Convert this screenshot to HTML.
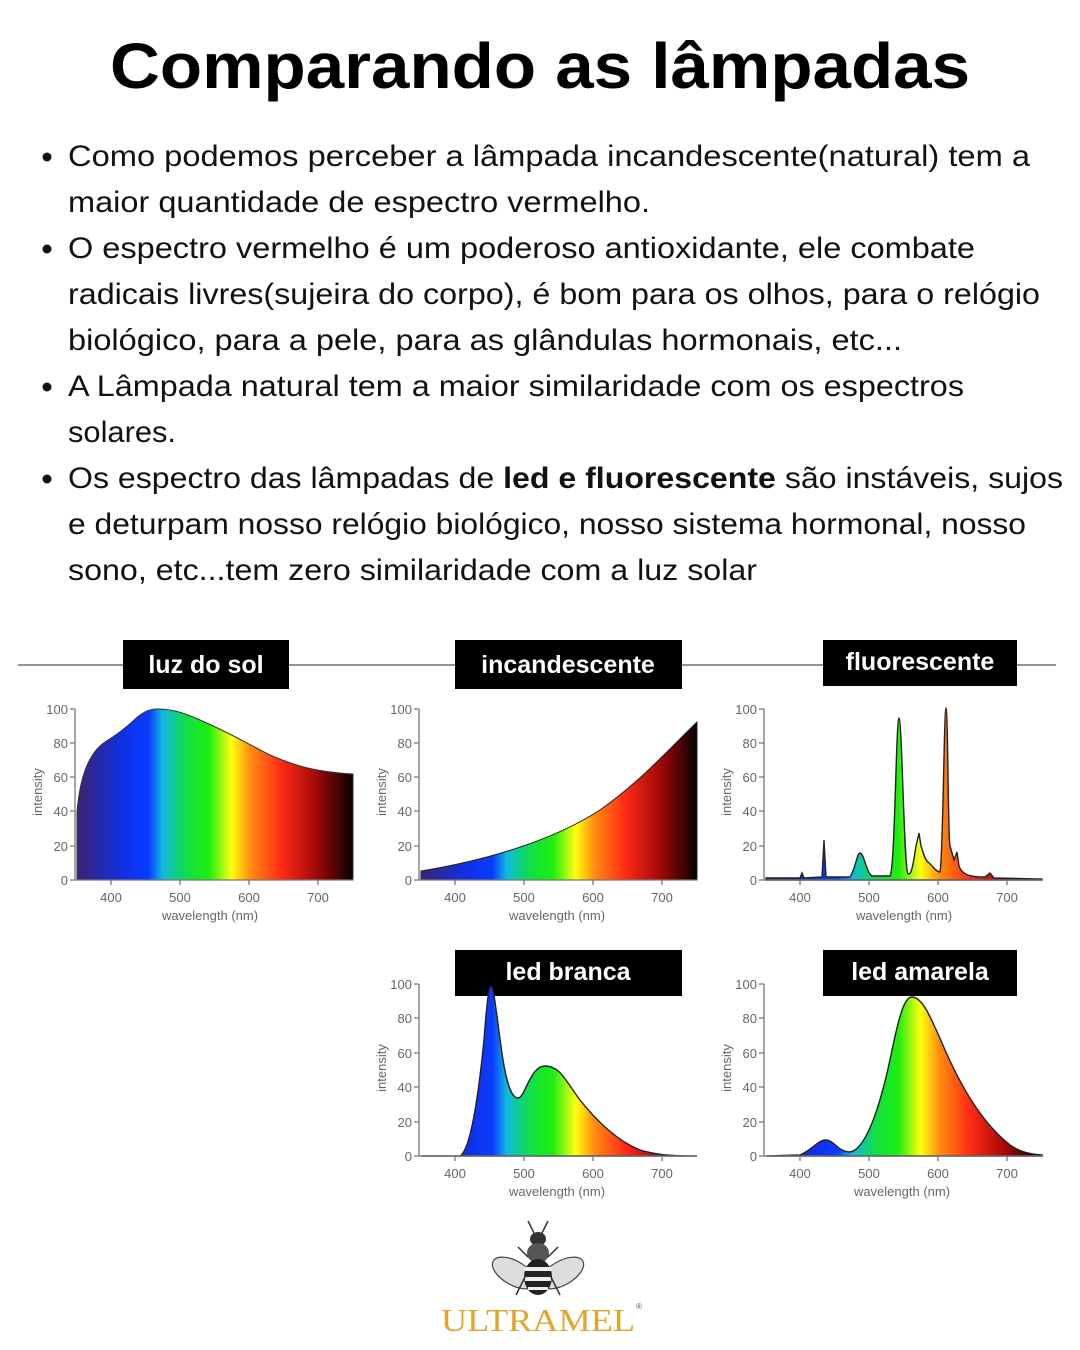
<!DOCTYPE html>
<html><head><meta charset="utf-8"><style>
html,body{margin:0;padding:0;background:#fff;}
svg{display:block}
</style></head><body>
<svg width="1080" height="1350" viewBox="0 0 1080 1350" xmlns="http://www.w3.org/2000/svg" font-family="Liberation Sans, sans-serif">
<defs>
<g id="stops">
</g>
<linearGradient id="g1" gradientUnits="userSpaceOnUse" x1="77" y1="0" x2="353" y2="0">
<stop offset="0" stop-color="#3b2470"/><stop offset="0.17" stop-color="#1030e8"/><stop offset="0.26" stop-color="#0a3cff"/><stop offset="0.31" stop-color="#10b8e0"/><stop offset="0.4" stop-color="#10e040"/><stop offset="0.48" stop-color="#20ee10"/><stop offset="0.56" stop-color="#ffff10"/><stop offset="0.63" stop-color="#ff8a10"/><stop offset="0.74" stop-color="#ff2a15"/><stop offset="0.87" stop-color="#a00808"/><stop offset="1" stop-color="#050000"/>
</linearGradient>
<linearGradient id="g2" href="#g1" x1="421" x2="697"/>
<linearGradient id="g3" href="#g1" x1="766" x2="1042"/>
</defs>

<text x="110" y="88" font-size="64" font-weight="bold" textLength="860" lengthAdjust="spacingAndGlyphs" fill="#000">Comparando as lâmpadas</text>

<g font-size="30" fill="#111">
<circle cx="47" cy="157" r="4.5" fill="#111"/>
<text x="68" y="166" textLength="962" lengthAdjust="spacingAndGlyphs">Como podemos perceber a lâmpada incandescente(natural) tem a</text>
<text x="68" y="212" textLength="582" lengthAdjust="spacingAndGlyphs">maior quantidade de espectro vermelho.</text>
<circle cx="47" cy="249" r="4.5" fill="#111"/>
<text x="68" y="258" textLength="907" lengthAdjust="spacingAndGlyphs">O espectro vermelho é um poderoso antioxidante, ele combate</text>
<text x="68" y="304" textLength="972" lengthAdjust="spacingAndGlyphs">radicais livres(sujeira do corpo), é bom para os olhos, para o relógio</text>
<text x="68" y="350" textLength="834" lengthAdjust="spacingAndGlyphs">biológico, para a pele, para as glândulas hormonais, etc...</text>
<circle cx="47" cy="387" r="4.5" fill="#111"/>
<text x="68" y="396" textLength="896" lengthAdjust="spacingAndGlyphs">A Lâmpada natural tem a maior similaridade com os espectros</text>
<text x="68" y="442" textLength="108" lengthAdjust="spacingAndGlyphs">solares.</text>
<circle cx="47" cy="479" r="4.5" fill="#111"/>
<text x="68" y="488" textLength="995" lengthAdjust="spacingAndGlyphs">Os espectro das lâmpadas de <tspan font-weight="bold">led e fluorescente</tspan> são instáveis, sujos</text>
<text x="68" y="534" textLength="958" lengthAdjust="spacingAndGlyphs">e deturpam nosso relógio biológico, nosso sistema hormonal, nosso</text>
<text x="68" y="580" textLength="689" lengthAdjust="spacingAndGlyphs">sono, etc...tem zero similaridade com a luz solar</text>
</g>

<line x1="18" y1="665" x2="1056" y2="665" stroke="#555" stroke-width="1.2"/>
<g fill="#000">
<rect x="123" y="640" width="166" height="49"/>
<rect x="455" y="640" width="227" height="49"/>
<rect x="823" y="640" width="194" height="46"/>
<rect x="455" y="950" width="227" height="46"/>
<rect x="823" y="950" width="194" height="46"/>
</g>
<g fill="#fff" font-size="25" font-weight="bold" text-anchor="middle">
<text x="206" y="673">luz do sol</text>
<text x="568" y="673">incandescente</text>
<text x="920" y="670">fluorescente</text>
<text x="568" y="980">led branca</text>
<text x="920" y="980">led amarela</text>
</g>

<!-- Chart 1 -->
<path d="M77,880 L77,812 C80,775 90,752 105,742 C118,734 125,728 132,722 C140,714 148,709 156,709 C170,709 180,711 200,720 C230,733 250,745 270,755 C300,768 320,772 353,774 L353,880 Z" fill="url(#g1)" stroke="#333" stroke-width="1"/>
<!-- Chart 2 -->
<path d="M421,880 L421,871 C500,858 560,836 600,810 C640,782 670,748 697,722 L697,880 Z" fill="url(#g2)" stroke="#222" stroke-width="1"/>
<!-- Chart 3 fluorescent -->
<path d="M766,880 L766,878 L800,878 L802,873 L804,878 L822,877 L824,840 L826,877 L850,877 C855,870 857,853 860,853 C864,853 866,872 872,876 L890,876 C895,870 896,718 899,718 C902,718 904,870 908,874 C912,876 914,858 916,846 L919,833 L921,846 C923,852 925,860 928,862 C932,865 936,872 940,872 C943,860 944,708 946,708 C948,708 948,840 950,846 L954,860 L957,852 L959,866 C962,875 970,877 985,877 L990,873 L994,878 L1042,879 L1042,880 Z" fill="url(#g3)" stroke="#222" stroke-width="1.4"/>
<!-- Chart 4 led branca -->
<path d="M421,1156 L460,1156 C470,1150 478,1100 484,1040 C487,1000 489,986 491,986 C494,986 497,1020 503,1060 C508,1090 513,1098 518,1098 C525,1098 530,1066 545,1066 C560,1066 565,1080 580,1100 C600,1125 620,1142 640,1150 C660,1156 680,1156 697,1156 Z" fill="url(#g2)" stroke="#222" stroke-width="1.4"/>
<!-- Chart 5 led amarela -->
<path d="M766,1156 L800,1155 C812,1150 818,1140 826,1140 C834,1140 838,1152 850,1152 C865,1150 880,1110 892,1050 C900,1012 905,997 912,997 C922,997 930,1015 945,1050 C965,1095 985,1125 1010,1145 C1020,1152 1030,1154 1042,1155 L1042,1156 Z" fill="url(#g3)" stroke="#222" stroke-width="1.4"/>

<!-- axes -->
<g stroke="#777" stroke-width="1.3" fill="none">
<path d="M75,709 V880 H353 M70,709 H75 M70,743 H75 M70,777 H75 M70,811 H75 M70,846 H75 M70,880 H75 M111,880 V885 M180,880 V885 M249,880 V885 M318,880 V885"/>
<path d="M419,709 V880 H697 M414,709 H419 M414,743 H419 M414,777 H419 M414,811 H419 M414,846 H419 M414,880 H419 M455,880 V885 M524,880 V885 M593,880 V885 M662,880 V885"/>
<path d="M764,709 V880 H1042 M759,709 H764 M759,743 H764 M759,777 H764 M759,811 H764 M759,846 H764 M759,880 H764 M800,880 V885 M869,880 V885 M938,880 V885 M1007,880 V885"/>
<path d="M419,984 V1156 H697 M414,984 H419 M414,1018 H419 M414,1053 H419 M414,1087 H419 M414,1122 H419 M414,1156 H419 M455,1156 V1161 M524,1156 V1161 M593,1156 V1161 M662,1156 V1161"/>
<path d="M764,984 V1156 H1042 M759,984 H764 M759,1018 H764 M759,1053 H764 M759,1087 H764 M759,1122 H764 M759,1156 H764 M800,1156 V1161 M869,1156 V1161 M938,1156 V1161 M1007,1156 V1161"/>
</g>
<g fill="#666" font-size="13">
<g text-anchor="end">
<text x="68" y="714">100</text><text x="68" y="748">80</text><text x="68" y="782">60</text><text x="68" y="816">40</text><text x="68" y="851">20</text><text x="68" y="885">0</text>
<text x="412" y="714">100</text><text x="412" y="748">80</text><text x="412" y="782">60</text><text x="412" y="816">40</text><text x="412" y="851">20</text><text x="412" y="885">0</text>
<text x="757" y="714">100</text><text x="757" y="748">80</text><text x="757" y="782">60</text><text x="757" y="816">40</text><text x="757" y="851">20</text><text x="757" y="885">0</text>
<text x="412" y="989">100</text><text x="412" y="1023">80</text><text x="412" y="1058">60</text><text x="412" y="1092">40</text><text x="412" y="1127">20</text><text x="412" y="1161">0</text>
<text x="757" y="989">100</text><text x="757" y="1023">80</text><text x="757" y="1058">60</text><text x="757" y="1092">40</text><text x="757" y="1127">20</text><text x="757" y="1161">0</text>
</g>
<g text-anchor="middle">
<text x="111" y="902">400</text><text x="180" y="902">500</text><text x="249" y="902">600</text><text x="318" y="902">700</text>
<text x="210" y="920">wavelength (nm)</text>
<text x="455" y="902">400</text><text x="524" y="902">500</text><text x="593" y="902">600</text><text x="662" y="902">700</text>
<text x="557" y="920">wavelength (nm)</text>
<text x="800" y="902">400</text><text x="869" y="902">500</text><text x="938" y="902">600</text><text x="1007" y="902">700</text>
<text x="904" y="920">wavelength (nm)</text>
<text x="455" y="1178">400</text><text x="524" y="1178">500</text><text x="593" y="1178">600</text><text x="662" y="1178">700</text>
<text x="557" y="1196">wavelength (nm)</text>
<text x="800" y="1178">400</text><text x="869" y="1178">500</text><text x="938" y="1178">600</text><text x="1007" y="1178">700</text>
<text x="902" y="1196">wavelength (nm)</text>
<text transform="translate(42,792) rotate(-90)">intensity</text>
<text transform="translate(386,792) rotate(-90)">intensity</text>
<text transform="translate(731,792) rotate(-90)">intensity</text>
<text transform="translate(386,1068) rotate(-90)">intensity</text>
<text transform="translate(731,1068) rotate(-90)">intensity</text>
</g>
</g>

<!-- bee logo -->
<g transform="translate(538,1265)">
<ellipse cx="-24" cy="8" rx="24" ry="12" transform="rotate(30 -24 8)" fill="#ddd" stroke="#444" stroke-width="1.2"/>
<ellipse cx="24" cy="8" rx="24" ry="12" transform="rotate(-30 24 8)" fill="#ddd" stroke="#444" stroke-width="1.2"/>
<ellipse cx="0" cy="-26" rx="8" ry="7" fill="#333"/>
<ellipse cx="0" cy="-12" rx="11" ry="10" fill="#555"/>
<ellipse cx="0" cy="12" rx="14" ry="18" fill="#222"/>
<rect x="-14" y="2" width="28" height="4" fill="#eee"/>
<rect x="-13" y="12" width="26" height="4" fill="#eee"/>
<rect x="-10" y="22" width="20" height="3" fill="#eee"/>
<path d="M-4,-32 L-10,-44 M4,-32 L10,-44" stroke="#333" stroke-width="1.5"/>
<path d="M-12,10 L-22,30 M12,10 L22,30 M-10,-8 L-20,-18 M10,-8 L20,-18" stroke="#333" stroke-width="1.5"/>
</g>
<text x="538" y="1331" text-anchor="middle" font-family="Liberation Serif, serif" font-size="32" fill="#e0a52a" textLength="194" lengthAdjust="spacingAndGlyphs">ULTRAMEL</text>
<text x="636" y="1309" font-size="8" fill="#555">®</text>
</svg>
</body></html>
